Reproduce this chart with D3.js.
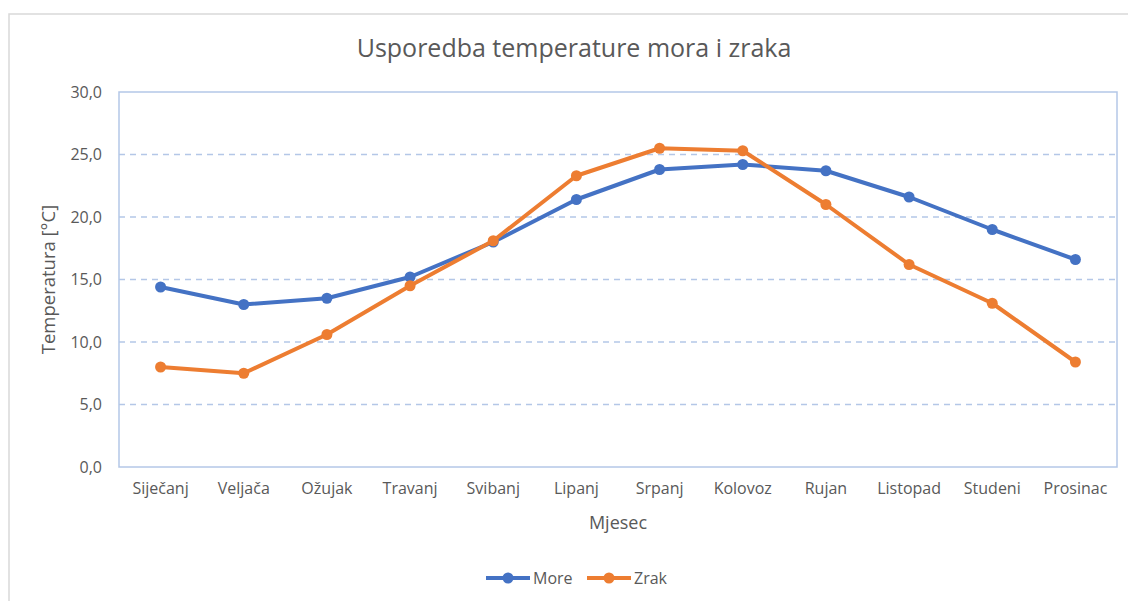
<!DOCTYPE html>
<html>
<head>
<meta charset="UTF-8">
<script src="https://d3js.org/d3.v7.min.js"></script>
<style>
  body { margin: 0; background: #fff; }
  text { font-family: "Open Sans", "Noto Sans", sans-serif; fill: #595959; }
</style>
</head>
<body>
<svg></svg>
<script>
// data
let months = ["Siječanj","Veljača","Ožujak","Travanj","Svibanj","Lipanj","Srpanj","Kolovoz","Rujan","Listopad","Studeni","Prosinac"];
let more = [14.4, 13.0, 13.5, 15.2, 18.0, 21.4, 23.8, 24.2, 23.7, 21.6, 19.0, 16.6];
let zrak = [8.0, 7.5, 10.6, 14.5, 18.1, 23.3, 25.5, 25.3, 21.0, 16.2, 13.1, 8.4];
let yTicks = [0, 5, 10, 15, 20, 25, 30];
let seriesNames = ["More", "Zrak"];
let colors = ["#4472C4", "#ED7D31"];

let width = 1128, height = 601;
let svg = d3.select("svg").attr("width", width).attr("height", height);

let plot = {left: 119, top: 92, right: 1117, bottom: 467};

// chart border
svg.append("rect")
  .attr("x", 9).attr("y", 14)
  .attr("width", 1130).attr("height", 600)
  .attr("fill", "none").attr("stroke", "#D9D9D9").attr("stroke-width", 1.5);

let x = d3.scaleBand().domain(months).range([plot.left, plot.right]);
let y = d3.scaleLinear().domain([0, 30]).range([plot.bottom, plot.top]);

// gridlines
svg.append("g").selectAll("line")
  .data(yTicks.filter(d => d > 0 && d < 30))
  .enter().append("line")
  .attr("x1", plot.left).attr("x2", plot.right)
  .attr("y1", d => y(d)).attr("y2", d => y(d))
  .attr("stroke", "#B4C7E7").attr("stroke-width", 1.5)
  .attr("stroke-dasharray", "6,5");

// plot border
svg.append("rect")
  .attr("x", plot.left).attr("y", plot.top)
  .attr("width", plot.right - plot.left).attr("height", plot.bottom - plot.top)
  .attr("fill", "none").attr("stroke", "#B4C7E7").attr("stroke-width", 1.5);

// y axis
let yAxis = svg.append("g")
  .attr("transform", `translate(${plot.left - 17},0)`)
  .call(d3.axisLeft(y).tickValues(yTicks).tickSize(0).tickFormat(d => d3.format(".1f")(d).replace(".", ",")));
yAxis.select(".domain").remove();
yAxis.selectAll("text").style("font-size", "16px").attr("fill", "#595959").attr("x", 0);

// x axis
let xAxis = svg.append("g")
  .attr("transform", `translate(0,${plot.bottom + 16})`)
  .call(d3.axisBottom(x).tickSize(0));
xAxis.select(".domain").remove();
xAxis.selectAll("text").style("font-size", "16px").attr("fill", "#595959").attr("dy", "0.71em").attr("y", 0);

// titles
svg.append("text")
  .attr("x", 574).attr("y", 57)
  .attr("text-anchor", "middle")
  .style("font-size", "25px")
  .text("Usporedba temperature mora i zraka");

svg.append("text")
  .attr("x", (plot.left + plot.right) / 2).attr("y", 529)
  .attr("text-anchor", "middle")
  .style("font-size", "18px")
  .text("Mjesec");

svg.append("text")
  .attr("transform", `translate(55,${(plot.top + plot.bottom) / 2}) rotate(-90)`)
  .attr("text-anchor", "middle")
  .style("font-size", "18.5px")
  .text("Temperatura [°C]");

// series
let line = d3.line()
  .x((d, i) => x(months[i]) + x.bandwidth() / 2)
  .y(d => y(d));

[more, zrak].forEach((vals, k) => {
  svg.append("path")
    .datum(vals)
    .attr("d", line)
    .attr("fill", "none")
    .attr("stroke", colors[k])
    .attr("stroke-width", 4)
    .attr("stroke-linejoin", "round");
  svg.append("g").selectAll("circle")
    .data(vals)
    .enter().append("circle")
    .attr("cx", (d, i) => x(months[i]) + x.bandwidth() / 2)
    .attr("cy", d => y(d))
    .attr("r", 5.5)
    .attr("fill", colors[k]);
});

// legend
let legendX = [486, 587];
seriesNames.forEach((name, k) => {
  let g = svg.append("g").attr("transform", `translate(${legendX[k]},578)`);
  g.append("line").attr("x1", 0).attr("x2", 44).attr("y1", 0).attr("y2", 0)
    .attr("stroke", colors[k]).attr("stroke-width", 4);
  g.append("circle").attr("cx", 22).attr("cy", 0).attr("r", 5.5).attr("fill", colors[k]);
  g.append("text").attr("x", 47).attr("y", 0).attr("dy", "0.35em")
    .style("font-size", "16px").text(name);
});
</script>
</body>
</html>
